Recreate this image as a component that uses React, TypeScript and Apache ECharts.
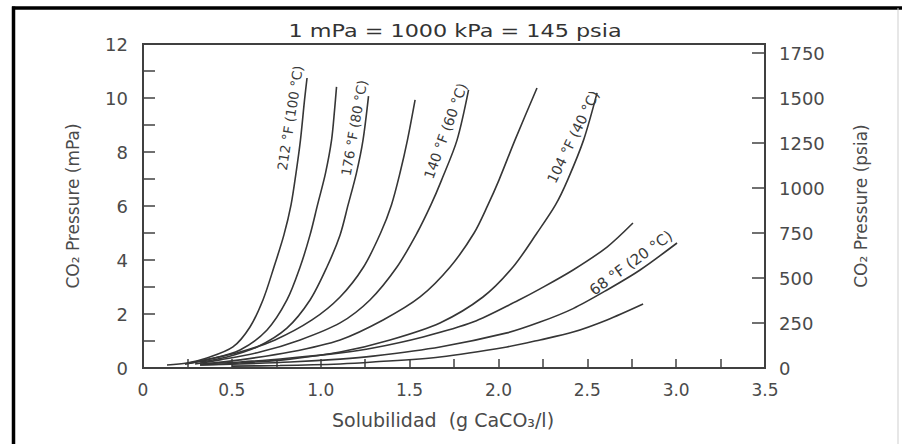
import React, { useEffect, useRef } from "react";
import * as echarts from "echarts";

// Axis ranges
const xMin = 0;
const xMax = 3.5;
const yMaxMPa = 12;
const yMaxPsia = 1800;

// Curves: [solubility g CaCO3/l, CO2 pressure mPa]
const curve1: number[][] = [[0.135, 0.11], [0.248, 0.185], [0.36, 0.37], [0.506, 0.78], [0.602, 1.52], [0.675, 2.52], [0.737, 3.74], [0.793, 4.93], [0.833, 6.04], [0.861, 7.22], [0.886, 8.44], [0.909, 9.93], [0.923, 10.74]];
const curve2: number[][] = [[0.236, 0.15], [0.36, 0.3], [0.546, 0.67], [0.698, 1.41], [0.81, 2.52], [0.884, 3.74], [0.94, 4.93], [0.982, 6.04], [1.027, 7.22], [1.061, 8.44], [1.078, 9.56], [1.089, 10.41]];
const curve3: number[][] = [[0.321, 0.22], [0.473, 0.41], [0.642, 0.78], [0.81, 1.48], [0.94, 2.52], [1.035, 3.74], [1.109, 4.93], [1.154, 6.04], [1.201, 7.22], [1.238, 8.44], [1.269, 10.07]];
const curve4: number[][] = [[0.236, 0.15], [0.349, 0.3], [0.546, 0.59], [0.743, 1.04], [0.951, 1.78], [1.109, 2.63], [1.241, 3.74], [1.337, 5.0], [1.398, 6.04], [1.446, 7.22], [1.488, 8.44], [1.531, 9.93]];
const curve5: number[][] = [[0.293, 0.15], [0.433, 0.3], [0.658, 0.59], [0.884, 1.04], [1.109, 1.67], [1.277, 2.52], [1.429, 3.74], [1.542, 5.0], [1.62, 6.04], [1.68, 6.96], [1.767, 8.44], [1.832, 10.3]];
const curve6: number[][] = [[0.349, 0.15], [0.546, 0.3], [0.827, 0.59], [1.109, 1.04], [1.351, 1.78], [1.559, 2.63], [1.728, 3.74], [1.863, 5.0], [1.941, 6.04], [2.003, 6.96], [2.093, 8.44], [2.217, 10.37]];
const curve7: number[][] = [[0.321, 0.11], [0.546, 0.185], [0.827, 0.33], [1.109, 0.59], [1.39, 1.04], [1.671, 1.67], [1.913, 2.63], [2.082, 3.74], [2.217, 5.0], [2.321, 6.04], [2.389, 6.96], [2.479, 8.44], [2.555, 10.19]];
const curve8: number[][] = [[0.321, 0.15], [0.546, 0.22], [0.827, 0.37], [1.109, 0.56], [1.294, 0.74], [1.576, 1.15], [1.857, 1.7], [2.11, 2.5], [2.234, 2.93], [2.42, 3.63], [2.611, 4.48], [2.757, 5.37]];
const curve9: number[][] = [[0.321, 0.11], [0.546, 0.15], [0.827, 0.22], [1.109, 0.33], [1.294, 0.44], [1.671, 0.78], [2.048, 1.3], [2.234, 1.7], [2.42, 2.2], [2.611, 2.89], [2.797, 3.63], [3.005, 4.63]];
const curve10: number[][] = [[0.5, 0.07], [0.771, 0.09], [1.109, 0.15], [1.294, 0.22], [1.671, 0.41], [2.048, 0.78], [2.234, 1.04], [2.42, 1.33], [2.611, 1.78], [2.814, 2.37]];

const curves = [curve1, curve2, curve3, curve4, curve5, curve6, curve7, curve8, curve9, curve10];

// Curve labels
const labelCurve = [0, 2, 4, 6, 8];
const labelText = ["212 °F (100 °C)", "176 °F (80 °C)", "140 °F (60 °C)", "104 °F (40 °C)", "68 °F (20 °C)"];
const labelX = [0.827, 1.187, 1.702, 2.42, 2.746];
const labelY = [9.26, 8.89, 8.78, 8.56, 3.89];
const labelAngle = [81, 80, 70, 64, 36];
const labelSize = [13.5, 13.5, 14, 14, 15];

const titleText = "1 mPa = 1000 kPa = 145 psia";

const FONT = "DejaVu Sans";
const LINE = "#363636";
const TXT = "#4a4a4a";

export default function App() {
  const ref = useRef<HTMLDivElement>(null);
  useEffect(() => {
    if (!ref.current) return;
    const chart = echarts.init(ref.current, undefined, { renderer: "svg" });
    const series: any[] = curves.map((c, i) => {
      const li = labelCurve.indexOf(i);
      const s: any = {
        type: "line",
        name: "curve " + (i + 1),
        data: c,
        smooth: 0.3,
        showSymbol: false,
        symbol: "none",
        lineStyle: { color: LINE, width: 1.6 },
        yAxisIndex: 0,
        z: 3,
      };
      if (li >= 0) {
        s.markPoint = {
          symbol: "circle",
          symbolSize: 0,
          silent: true,
          data: [
            {
              coord: [labelX[li], labelY[li]],
              label: {
                show: true,
                position: "inside",
                formatter: labelText[li],
                rotate: labelAngle[li],
                color: "#3a3a3a",
                fontFamily: FONT,
                fontSize: labelSize[li],
              },
            },
          ],
        };
      }
      return s;
    });

    chart.setOption({
      animation: false,
      backgroundColor: "#ffffff",
      grid: {
        left: 143,
        right: 137,
        top: 44,
        bottom: 76,
        show: true,
        borderColor: "#404040",
        borderWidth: 2,
        backgroundColor: "transparent",
      },
      graphic: [
        {
          type: "text",
          x: 455,
          y: 31,
          scaleX: 1.24,
          style: {
            text: titleText,
            fontFamily: FONT,
            fontSize: 18,
            fill: "#333",
            align: "center",
            verticalAlign: "middle",
          },
        },
        { type: "line", shape: { x1: 12, y1: 8, x2: 902, y2: 8 }, style: { stroke: "#000", lineWidth: 3.5 } },
        { type: "line", shape: { x1: 13.5, y1: 6.5, x2: 13.5, y2: 444 }, style: { stroke: "#000", lineWidth: 3.5 } },
        { type: "line", shape: { x1: 898, y1: 8, x2: 898, y2: 444 }, style: { stroke: "#cfcfcf", lineWidth: 1 } },
      ],
      xAxis: {
        type: "value",
        min: xMin,
        max: xMax,
        interval: 0.5,
        name: "Solubilidad  (g CaCO₃/l)",
        nameLocation: "middle",
        nameGap: 42,
        nameTextStyle: { fontFamily: FONT, fontSize: 19, color: TXT, padding: [0, 22, 0, 0] },
        axisLine: { show: true, lineStyle: { color: "#404040", width: 2 } },
        axisTick: { show: true, inside: true, length: 9, lineStyle: { color: "#404040", width: 1.5 } },
        minorTick: { show: true, splitNumber: 2, length: 9, lineStyle: { color: "#404040", width: 1.5 } },
        splitLine: { show: false },
        axisLabel: {
          fontFamily: FONT,
          fontSize: 17,
          color: TXT,
          margin: 13,
          formatter: (v: number) => (v === 0 ? "0" : v.toFixed(1)),
        },
      },
      yAxis: [
        {
          type: "value",
          min: 0,
          max: yMaxMPa,
          interval: 1,
          position: "left",
          name: "CO₂ Pressure (mPa)",
          nameLocation: "middle",
          nameGap: 62,
          nameRotate: 90,
          nameTextStyle: { fontFamily: FONT, fontSize: 17, color: TXT },
          axisLine: { show: true, lineStyle: { color: "#404040", width: 2 } },
          axisTick: { show: true, inside: true, length: 12, lineStyle: { color: "#404040", width: 1.5 } },
          splitLine: { show: false },
          axisLabel: {
            fontFamily: FONT,
            fontSize: 18,
            color: TXT,
            margin: 15,
            formatter: (v: number) => (v % 2 === 0 ? String(v) : ""),
          },
        },
        {
          type: "value",
          min: 0,
          max: yMaxPsia,
          interval: 250,
          position: "right",
          name: "CO₂ Pressure (psia)",
          nameLocation: "middle",
          nameGap: 87,
          nameRotate: 90,
          nameTextStyle: { fontFamily: FONT, fontSize: 17, color: TXT },
          axisLine: { show: true, lineStyle: { color: "#404040", width: 2 } },
          axisTick: { show: true, inside: true, length: 13, lineStyle: { color: "#404040", width: 1.5 } },
          splitLine: { show: false },
          axisLabel: {
            fontFamily: FONT,
            fontSize: 18,
            color: TXT,
            margin: 14,
            showMaxLabel: false,
            formatter: (v: number) => (v % 250 === 0 ? String(v) : ""),
          },
        },
      ],
      series,
    });
    return () => chart.dispose();
  }, []);

  return (
    <div
      ref={ref}
      style={{ position: "fixed", left: 0, top: 0, width: 902, height: 444, background: "#fff" }}
    />
  );
}
